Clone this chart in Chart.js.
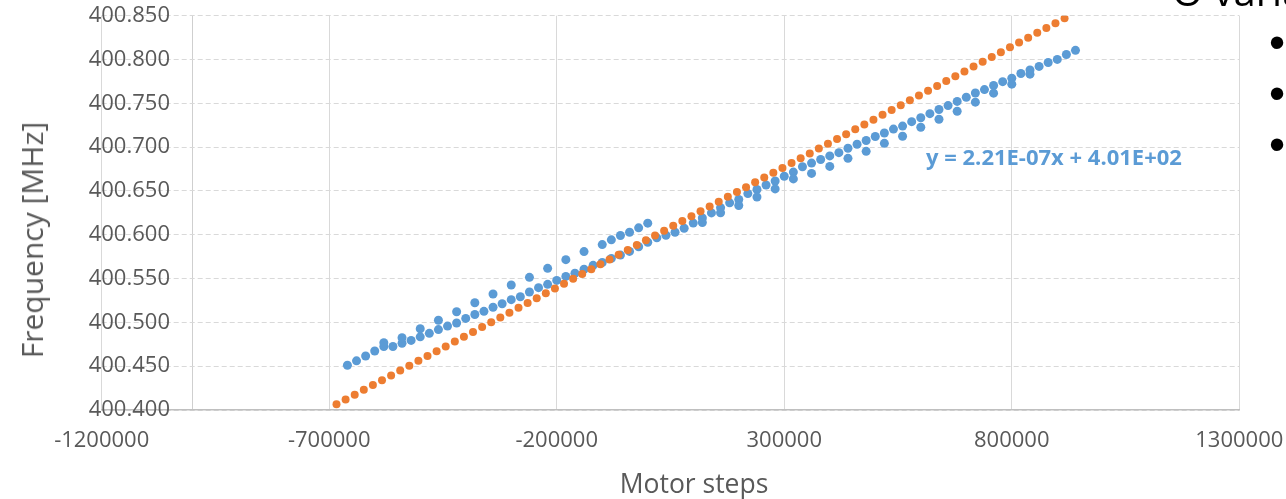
<!DOCTYPE html>
<html><head><meta charset="utf-8">
<script src="https://cdn.jsdelivr.net/npm/chart.js@4.4.1/dist/chart.umd.min.js"></script>
<style>
html,body{margin:0;padding:0;background:#fff;overflow:hidden}
#wrap{position:relative;width:1286px;height:499px;overflow:hidden}
canvas{position:absolute;left:0;top:0}
.t{position:absolute;font-family:"Open Sans",sans-serif;color:#595959;white-space:nowrap;line-height:1}
.b{position:absolute;font-family:"Liberation Sans",sans-serif;color:#000;font-size:46px;line-height:1;transform:translate(-50%,-50%)}
</style></head><body>
<div id="wrap">
<canvas id="c" width="1286" height="499"></canvas>
<div class="t" style="left:694px;top:483px;transform:translate(-50%,-50%);font-size:26.5px">Motor steps</div>
<div class="t" style="left:32px;top:240px;transform:translate(-50%,-50%) rotate(-90deg);font-size:30px">Frequency [MHz]</div>
<div class="t" style="left:926px;top:156px;transform:translateY(-50%);font-size:22px;font-weight:bold;color:#5B9BD5">y = 2.21E-07x + 4.01E+02</div>
<div class="t" style="left:1172px;top:-29px;font-size:40px;line-height:40px;color:#000">O varia</div>
<div class="b" style="left:1277px;top:42px">•</div>
<div class="b" style="left:1277px;top:93px">•</div>
<div class="b" style="left:1277px;top:144px">•</div>
</div>
<script>
const xTicks = [-1200000, -700000, -200000, 300000, 800000, 1300000];
const yTicks = [400.400, 400.450, 400.500, 400.550, 400.600, 400.650, 400.700, 400.750, 400.800, 400.850];
const yAxisCrossing = -1000000;

const orangeX = [-684000,-664000,-644000,-624000,-604000,-584000,-564000,-544000,-524000,-504000,
-484000,-464000,-444000,-424000,-404000,-384000,-364000,-344000,-324000,-304000,
-284000,-264000,-244000,-224000,-204000,-184000,-164000,-144000,-124000,-104000,
-84000,-64000,-44000,-24000,-4000,16000,36000,56000,76000,96000,
116000,136000,156000,176000,196000,216000,236000,256000,276000,296000,
316000,336000,356000,376000,396000,416000,436000,456000,476000,496000,
516000,536000,556000,576000,596000,616000,636000,656000,676000,696000,
716000,736000,756000,776000,796000,816000,836000,856000,876000,896000,
916000];
const orangeY = [400.4065,400.4120,400.4175,400.4230,400.4285,400.4340,400.4395,400.4450,400.4505,400.4561,
400.4616,400.4671,400.4726,400.4781,400.4836,400.4891,400.4946,400.5001,400.5056,400.5111,
400.5166,400.5221,400.5276,400.5331,400.5386,400.5441,400.5497,400.5552,400.5607,400.5662,
400.5717,400.5772,400.5827,400.5882,400.5937,400.5992,400.6047,400.6102,400.6157,400.6212,
400.6267,400.6322,400.6377,400.6433,400.6488,400.6543,400.6598,400.6653,400.6708,400.6763,
400.6818,400.6873,400.6928,400.6983,400.7038,400.7093,400.7148,400.7203,400.7258,400.7313,
400.7369,400.7424,400.7479,400.7534,400.7589,400.7644,400.7699,400.7754,400.7809,400.7864,
400.7919,400.7974,400.8029,400.8084,400.8139,400.8194,400.8249,400.8305,400.8360,400.8415,
400.8470];

const blueMainX = [-660000,-640000,-620000,-600000,-580000,-560000,-540000,-520000,-500000,-480000,
-460000,-440000,-420000,-400000,-380000,-360000,-340000,-320000,-300000,-280000,
-260000,-240000,-220000,-200000,-180000,-160000,-140000,-120000,-100000,-80000,
-60000,-40000,-20000,0,20000,40000,60000,80000,100000,120000,
140000,160000,180000,200000,220000,240000,260000,280000,300000,320000,
340000,360000,380000,400000,420000,440000,460000,480000,500000,520000,
540000,560000,580000,600000,620000,640000,660000,680000,700000,720000,
740000,760000,780000,800000,820000,840000,860000,880000,900000,920000,
940000];
const blueMainY = [400.4511,400.4561,400.4616,400.4673,400.4724,400.4725,400.4762,400.4794,400.4835,400.4875,
400.4918,400.4958,400.4993,400.5045,400.5090,400.5126,400.5172,400.5213,400.5259,400.5293,
400.5347,400.5396,400.5434,400.5479,400.5525,400.5561,400.5606,400.5651,400.5683,400.5730,
400.5768,400.5810,400.5863,400.5914,400.5965,400.5994,400.6029,400.6074,400.6133,400.6191,
400.6249,400.6308,400.6364,400.6403,400.6470,400.6517,400.6568,400.6614,400.6668,400.6715,
400.6776,400.6818,400.6859,400.6900,400.6937,400.6987,400.7033,400.7076,400.7121,400.7161,
400.7206,400.7240,400.7291,400.7335,400.7382,400.7430,400.7474,400.7522,400.7569,400.7618,
400.7657,400.7703,400.7747,400.7786,400.7841,400.7880,400.7921,400.7966,400.8001,400.8057,
400.8105];

const blueUpX = [-580000,-540000,-500000,-460000,-420000,-380000,-340000,-300000,-260000,-220000,
-180000,-140000,-100000,-80000,-60000,-40000,-20000,0];
const blueUpY = [400.4767,400.4824,400.4927,400.5024,400.5121,400.5224,400.5324,400.5427,400.5514,400.5617,
400.5716,400.5808,400.5888,400.5942,400.5991,400.6029,400.6079,400.6132];

const blueLowX = [120000,160000,200000,240000,280000,320000,360000,400000,440000,480000,
520000,560000,600000,640000,680000,720000,760000,800000,840000];
const blueLowY = [400.6140,400.6251,400.6334,400.6431,400.6523,400.6637,400.6700,400.6780,400.6872,400.6952,
400.7043,400.7124,400.7227,400.7318,400.7410,400.7513,400.7616,400.7719,400.7833];

const BLUE = '#5B9BD5', ORANGE = '#ED7D31';
const pts = (xs, ys) => xs.map((x, i) => ({x: x, y: ys[i]}));
const blueData = pts(blueMainX, blueMainY).concat(pts(blueUpX, blueUpY), pts(blueLowX, blueLowY));
const orangeData = pts(orangeX, orangeY);

const tickFont = {family: '"Open Sans"', size: 22};
const zeroPad = s => { s.paddingLeft = 0; s.paddingRight = 0; s.paddingTop = 0; s.paddingBottom = 0; };

new Chart(document.getElementById('c'), {
  type: 'scatter',
  data: {
    datasets: [
      {label: 'Orange', data: orangeData, backgroundColor: ORANGE, borderColor: ORANGE,
       pointRadius: 4.0, pointBorderWidth: 0, order: 0},
      {label: 'Blue', data: blueData, backgroundColor: BLUE, borderColor: BLUE,
       pointRadius: 4.5, pointBorderWidth: 0, order: 1}
    ]
  },
  options: {
    responsive: false,
    animation: false,
    events: [],
    layout: {padding: {left: 101.7, right: 46.7, top: 15.7, bottom: 26.6}},
    plugins: {legend: {display: false}, tooltip: {enabled: false}},
    scales: {
      x: {
        type: 'linear', position: 'bottom',
        min: -1200000, max: 1300000,
        afterBuildTicks: s => { s.ticks = xTicks.concat([yAxisCrossing]).map(v => ({value: v})); },
        afterFit: zeroPad,
        ticks: {font: tickFont, color: '#595959', padding: 18, maxRotation: 0, autoSkip: false,
                callback: v => (xTicks.includes(v) ? String(v) : '')},
        grid: {color: c => (c.tick && c.tick.value === yAxisCrossing ? '#cfcfcf' : '#d9d9d9'),
               lineWidth: 1, drawTicks: false},
        border: {display: true, color: '#bfbfbf', width: 1.5}
      },
      y: {
        type: 'linear', position: {x: -1050000},
        min: 400.4, max: 400.85,
        afterBuildTicks: s => { s.ticks = yTicks.map(v => ({value: v})); },
        afterFit: zeroPad,
        ticks: {font: tickFont, color: '#595959', padding: 0,
                callback: v => Number(v).toFixed(3)},
        grid: {color: '#d9d9d9', lineWidth: 1, drawTicks: false},
        border: {display: false, dash: [5, 3]}
      }
    }
  }
});
</script>
</body></html>
